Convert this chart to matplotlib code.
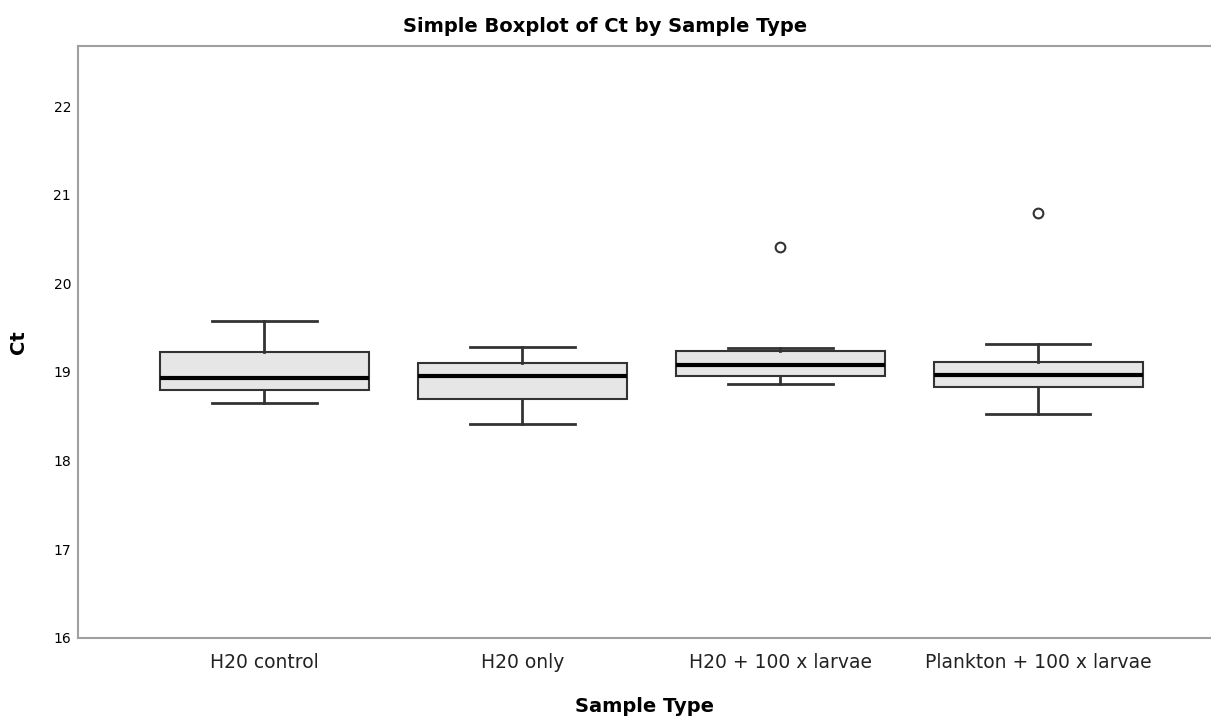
import matplotlib
matplotlib.use("Agg")
import matplotlib.pyplot as plt

# the reference text is wide, DejaVu matches its widths better than Arial
plt.rcParams['font.family'] = ['DejaVu Sans']

# values (Ct)
categories = ['H20 control', 'H20 only', 'H20 + 100 x larvae', 'Plankton + 100 x larvae']
whisker_low = [18.65, 18.41, 18.86, 18.52]
q1 = [18.80, 18.69, 18.95, 18.83]
median = [18.93, 18.96, 19.08, 18.97]
q3 = [19.22, 19.10, 19.24, 19.11]
whisker_high = [19.57, 19.28, 19.27, 19.32]
outliers = [[], [], [20.41], [20.80]]

stats = []
for i, name in enumerate(categories):
    stats.append({
        'label': name,
        'whislo': whisker_low[i],
        'q1': q1[i],
        'med': median[i],
        'q3': q3[i],
        'whishi': whisker_high[i],
        'fliers': outliers[i],
    })

fig = plt.figure(figsize=(12.11, 7.2), dpi=100)
ax = fig.add_axes([78 / 1211, 1 - 637.7 / 720, (1211 - 78) / 1211, (637.7 - 46) / 720])

ax.bxp(stats, positions=range(len(categories)), widths=0.81, patch_artist=True,
       boxprops=dict(facecolor='#e6e6e6', edgecolor='#333333', linewidth=1.5),
       medianprops=dict(color='black', linewidth=3),
       whiskerprops=dict(color='#333333', linewidth=2),
       capprops=dict(color='#333333', linewidth=2),
       capwidths=0.405,
       flierprops=dict(marker='o', markerfacecolor='white', markeredgecolor='#333333',
                       markersize=7, markeredgewidth=1.5))

ax.set_xlim(-0.723, 3.67)
ax.set_ylim(16, 22.68)
ax.set_yticks([16, 17, 18, 19, 20, 21, 22])
ax.tick_params(axis='both', length=0)
ax.tick_params(axis='y', labelsize=10, pad=5)
ax.tick_params(axis='x', labelsize=13.5, pad=11)
for lbl in ax.get_xticklabels():
    lbl.set_color('#222222')

for side in ['left', 'bottom', 'top']:
    ax.spines[side].set_color('#a0a0a0')
    ax.spines[side].set_linewidth(1.5)
ax.spines['right'].set_visible(False)

# title is centred on the figure, not on the axes
fig.text(0.5, 1 - 26 / 720, 'Simple Boxplot of Ct by Sample Type', fontsize=14,
         fontweight='bold', ha='center', va='center')
ax.set_ylabel('Ct', fontsize=14, fontweight='bold', labelpad=18)
ax.set_xlabel('Sample Type', fontsize=14, fontweight='bold', labelpad=18)

fig.savefig('out.png', dpi=100)
